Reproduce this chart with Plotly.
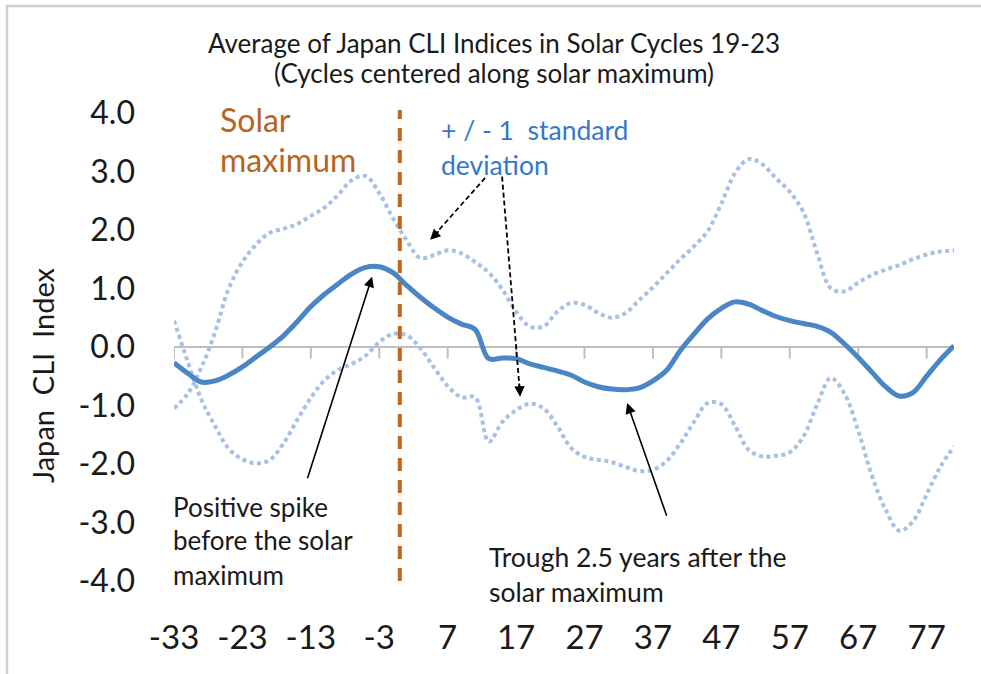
import plotly.graph_objects as go

# Months relative to solar maximum (every 2nd category sampled from the chart)
months = list(range(-33, 82, 2))

mean_cli = [-0.27, -0.45, -0.60, -0.58, -0.48, -0.34, -0.17, 0.00, 0.19, 0.43,
            0.69, 0.90, 1.08, 1.25, 1.36, 1.37, 1.27, 1.05, 0.85, 0.67,
            0.51, 0.39, 0.30, -0.20, -0.19, -0.20, -0.29, -0.35, -0.41, -0.48,
            -0.60, -0.68, -0.72, -0.73, -0.70, -0.58, -0.40, -0.06, 0.22, 0.48,
            0.66, 0.77, 0.73, 0.62, 0.52, 0.45, 0.40, 0.35, 0.25, 0.05,
            -0.18, -0.43, -0.68, -0.84, -0.78, -0.50, -0.22, 0.02]

upper_sd = [-1.05, -0.80, -0.35, 0.25, 1.00, 1.45, 1.75, 1.95, 2.02, 2.10,
            2.24, 2.38, 2.60, 2.85, 2.92, 2.63, 2.20, 1.82, 1.52, 1.57,
            1.65, 1.60, 1.45, 1.27, 0.98, 0.60, 0.35, 0.35, 0.60, 0.75,
            0.72, 0.58, 0.50, 0.58, 0.80, 1.02, 1.26, 1.50, 1.72, 1.98,
            2.45, 2.97, 3.21, 3.12, 2.88, 2.65, 2.30, 1.60, 1.00, 0.95,
            1.10, 1.23, 1.32, 1.40, 1.50, 1.58, 1.63, 1.65]

lower_sd = [0.45, -0.25, -0.90, -1.35, -1.74, -1.92, -1.99, -1.93, -1.65, -1.25,
            -0.87, -0.57, -0.39, -0.29, -0.15, 0.08, 0.22, 0.20, -0.02, -0.35,
            -0.67, -0.86, -0.86, -1.62, -1.28, -1.08, -0.97, -1.05, -1.35, -1.72,
            -1.88, -1.93, -1.97, -2.05, -2.12, -2.10, -1.95, -1.65, -1.28, -0.96,
            -0.98, -1.35, -1.76, -1.87, -1.86, -1.80, -1.53, -0.98, -0.53, -0.80,
            -1.43, -2.20, -2.78, -3.14, -2.98, -2.52, -2.05, -1.70]

x_tickvals = [-33, -23, -13, -3, 7, 17, 27, 37, 47, 57, 67, 77]
x_ticktext = [str(v) for v in x_tickvals]
y_tickvals = [4, 3, 2, 1, 0, -1, -2, -3, -4]
y_ticktext = ["4.0", "3.0", "2.0", "1.0", "0.0", "-1.0", "-2.0", "-3.0", "-4.0"]

FONT = "Lato"
BLUE = "#4a86c6"
LIGHT = "#a6c1e5"
ORANGE = "#c0661c"
XR = [-33, 81]
YR = [-4, 4.1]

def px_(x):
    return (x - XR[0]) / (XR[1] - XR[0])

def py_(y):
    return (y - YR[0]) / (YR[1] - YR[0])

fig = go.Figure()
fig.add_trace(go.Scatter(x=months, y=upper_sd, mode="lines", line_shape="spline",
                         line=dict(color=LIGHT, width=4, dash="4px,3.5px"),
                         hoverinfo="skip", showlegend=False))
fig.add_trace(go.Scatter(x=months, y=lower_sd, mode="lines", line_shape="spline",
                         line=dict(color=LIGHT, width=4, dash="4px,3.5px"),
                         hoverinfo="skip", showlegend=False))
fig.add_trace(go.Scatter(x=months, y=mean_cli, mode="lines", line_shape="spline",
                         line=dict(color=BLUE, width=5),
                         hoverinfo="skip", showlegend=False))

shapes = []
# frame border
shapes.append(dict(type="rect", xref="paper", yref="paper",
                   x0=-0.2141, x1=1.06, y0=-0.25, y1=1.2131,
                   line=dict(color="#cfcfcf", width=2.5), layer="below"))
# tick marks hanging from the zero axis
for t in x_tickvals:
    shapes.append(dict(type="line", xref="x", yref="y", x0=t, x1=t, y0=0, y1=-0.2,
                       line=dict(color="#bfbfbf", width=2), layer="below"))
# solar maximum dashed line
shapes.append(dict(type="line", xref="x", yref="y", x0=0, x1=0, y0=-4.0, y1=4.05,
                   line=dict(color=ORANGE, width=4, dash="13px,9px")))
# dashed arrow shafts
shapes.append(dict(type="line", xref="x", yref="y", x0=12.47, y0=2.89, x1=4.9, y1=1.89,
                   line=dict(color="black", width=1.8, dash="5px,3px")))
shapes.append(dict(type="line", xref="x", yref="y", x0=14.95, y0=2.91, x1=17.5, y1=-0.7,
                   line=dict(color="black", width=1.8, dash="5px,3px")))

annotations = []
def txt(x, y, s, size, color="#1a1a1a", xanchor="left", **kw):
    annotations.append(dict(x=px_(x), y=py_(y), xref="paper", yref="paper", text=s,
                            showarrow=False, xanchor=xanchor, yanchor="middle",
                            font=dict(family=FONT, size=size, color=color), **kw))

# title
txt(13.78, 5.19, "Average of Japan CLI Indices in Solar Cycles 19-23", 26, xanchor="center")
txt(13.78, 4.68, "(Cycles centered along solar maximum)", 26, xanchor="center")
# y axis title
txt(-52.3, -0.48, "Japan\u00a0\u00a0CLI\u00a0\u00a0Index", 29, xanchor="center", textangle=-90)
# labels
txt(-26.57, 3.88, "Solar", 32, color="#b8641e")
txt(-26.57, 3.20, "maximum", 32, color="#b8641e")
txt(5.75, 3.71, "+ / - 1\u00a0 standard", 26.5, color="#3479c7")
txt(5.75, 3.11, "deviation", 26.5, color="#3479c7")
txt(-33.5, -2.735, "Positive spike", 26)
txt(-33.5, -3.30, "before the solar", 26)
txt(-33.5, -3.90, "maximum", 26)
txt(12.8, -3.59, "Trough 2.5 years after the", 26.5)
txt(12.8, -4.19, "solar maximum", 26.5)

# solid arrows
annotations.append(dict(x=-4.05, y=1.20, ax=-13.56, ay=-2.27, xref="x", yref="y",
                        axref="x", ayref="y", text="", showarrow=True,
                        arrowhead=2, arrowsize=1.3, arrowwidth=1.6, arrowcolor="black"))
annotations.append(dict(x=33.23, y=-0.96, ax=39.08, ay=-2.91, xref="x", yref="y",
                        axref="x", ayref="y", text="", showarrow=True,
                        arrowhead=2, arrowsize=1.3, arrowwidth=1.6, arrowcolor="black"))
# dashed arrow heads
annotations.append(dict(x=4.43, y=1.83, ax=5.9, ay=2.0, xref="x", yref="y",
                        axref="x", ayref="y", text="", showarrow=True,
                        arrowhead=2, arrowsize=1.3, arrowwidth=1.6, arrowcolor="black"))
annotations.append(dict(x=17.58, y=-0.85, ax=17.45, ay=-0.6, xref="x", yref="y",
                        axref="x", ayref="y", text="", showarrow=True,
                        arrowhead=2, arrowsize=1.3, arrowwidth=1.6, arrowcolor="black"))

fig.update_layout(
    width=981, height=674,
    margin=dict(l=174, r=27, t=107, b=93),
    paper_bgcolor="white", plot_bgcolor="white",
    shapes=shapes, annotations=annotations,
    xaxis=dict(range=XR, tickvals=x_tickvals, ticktext=x_ticktext,
               showgrid=False, zeroline=False, showline=False, ticks="",
               ticklabelstandoff=34,
               tickfont=dict(family=FONT, size=33, color="#1a1a1a")),
    yaxis=dict(range=YR, tickvals=y_tickvals, ticktext=y_ticktext,
               showgrid=False, zeroline=True, zerolinecolor="#bfbfbf", zerolinewidth=2,
               showline=False, ticks="", ticklabelstandoff=38,
               tickfont=dict(family=FONT, size=32, color="#1a1a1a")),
)

fig.write_html("out.html", config={"displayModeBar": False},
               post_script="document.body.style.margin='0';")
